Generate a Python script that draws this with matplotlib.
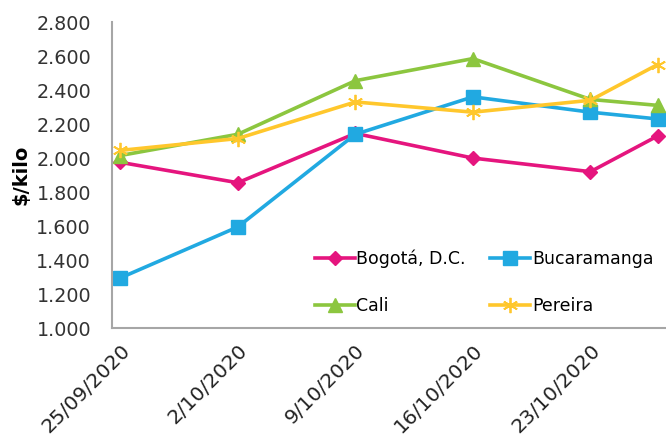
import datetime as dt
import matplotlib
matplotlib.use('Agg')
import matplotlib.pyplot as plt
import matplotlib.dates as mdates

# fechas de los precios (eje de fechas, como en Excel)
fechas = [dt.date(2020, 9, 25), dt.date(2020, 10, 2), dt.date(2020, 10, 9),
          dt.date(2020, 10, 16), dt.date(2020, 10, 23), dt.date(2020, 10, 27)]
tick_fechas = fechas[:5]
tick_labels = ['25/09/2020', '2/10/2020', '9/10/2020', '16/10/2020', '23/10/2020']

bogota = [1.975, 1.855, 2.145, 2.000, 1.920, 2.130]
bucaramanga = [1.295, 1.595, 2.140, 2.360, 2.270, 2.230]
cali = [2.015, 2.140, 2.455, 2.585, 2.345, 2.310]
pereira = [2.045, 2.115, 2.330, 2.270, 2.340, 2.550]

yticks = [1.0, 1.2, 1.4, 1.6, 1.8, 2.0, 2.2, 2.4, 2.6, 2.8]
ytick_labels = ['1.000', '1.200', '1.400', '1.600', '1.800',
                '2.000', '2.200', '2.400', '2.600', '2.800']

plt.rcParams['font.family'] = ['DejaVu Sans']

fig = plt.figure(figsize=(6.66, 4.41), dpi=100)
ax = fig.add_axes([0.168, 0.256, 0.832, 0.694])

xnum = mdates.date2num(fechas)
l1, = ax.plot(xnum, bogota, '-D', color='#E5157E', linewidth=2.6, markersize=7.5, label='Bogotá, D.C.')
l2, = ax.plot(xnum, bucaramanga, '-s', color='#21A9E1', linewidth=2.6, markersize=10.5, label='Bucaramanga')
l3, = ax.plot(xnum, cali, '-^', color='#8CC63F', linewidth=2.6, markersize=10.5, label='Cali')
l4, = ax.plot(xnum, pereira, '-', color='#FFC72C', linewidth=2.6, marker=(6, 2, 0),
              markersize=11, markeredgewidth=1.3, label='Pereira')

ax.set_xlim(xnum[0] - 0.5, xnum[-1] + 0.5)
ax.set_ylim(1.0, 2.8)
ax.set_yticks(yticks)
ax.set_yticklabels(ytick_labels, fontsize=13.8, color='#333333')
ax.set_xticks(mdates.date2num(tick_fechas))
ax.set_xticklabels(tick_labels, rotation=45, ha='right', rotation_mode='anchor',
                   fontsize=14.5, color='#222222')
ax.tick_params(axis='y', length=0, pad=15)
ax.tick_params(axis='x', length=0, pad=9)
ax.set_ylabel('$/kilo', fontsize=14, fontweight='bold', labelpad=4)

for s in ['top', 'right']:
    ax.spines[s].set_visible(False)
for s in ['left', 'bottom']:
    ax.spines[s].set_color('#A6A6A6')
    ax.spines[s].set_linewidth(1.5)

# orden por filas como en el original
ax.legend([l1, l3, l2, l4], ['Bogotá, D.C.', 'Cali', 'Bucaramanga', 'Pereira'],
          ncol=2, loc='upper left', bbox_to_anchor=(0.366, 0.257), frameon=False,
          fontsize=12.5, handlelength=2.3, columnspacing=1.4, labelspacing=1.7,
          handletextpad=0.1, borderpad=0, borderaxespad=0)

fig.savefig('out.png', dpi=100)
